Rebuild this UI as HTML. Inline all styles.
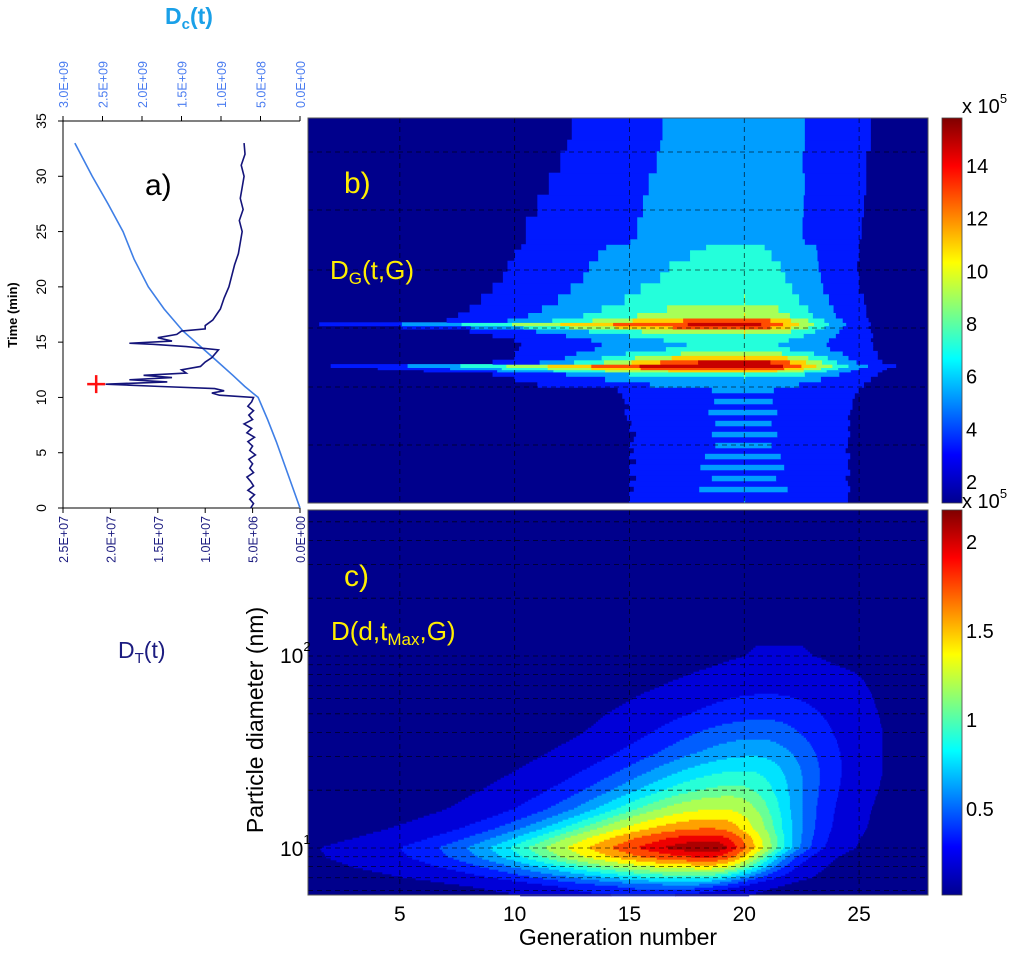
<!DOCTYPE html>
<html><head><meta charset="utf-8">
<style>
html,body{margin:0;padding:0;background:#fff;}
svg{display:block;font-family:"Liberation Sans",sans-serif;}
</style></head>
<body>
<svg id="fig" width="1024" height="955" viewBox="0 0 1024 955" xmlns="http://www.w3.org/2000/svg">
<defs>
<linearGradient id="jetb" x1="0" y1="1" x2="0" y2="0">
<stop offset="0" stop-color="#00008f"/><stop offset="0.125" stop-color="#0000ff"/><stop offset="0.375" stop-color="#00ffff"/><stop offset="0.625" stop-color="#ffff00"/><stop offset="0.875" stop-color="#ff0000"/><stop offset="1" stop-color="#800000"/>
</linearGradient>
</defs>
<g id="panelA"></g>
<g id="panelB"></g>
<g id="panelC"></g>
<g id="cbars"></g>
<g id="labels"></g>
</svg>
<script>
// ---------- Panel a data ----------
const dcTimes = [0,2,4,6,8,10,11,12,13.6,16,18,20,22.5,25,27.5,30,33];
const dcValues = [0,0.1e9,0.2e9,0.3e9,0.41e9,0.53e9,0.7e9,0.85e9,1.1e9,1.48e9,1.72e9,1.92e9,2.1e9,2.24e9,2.43e9,2.63e9,2.85e9];
const dtTimes = [0,0.4,0.8,1.2,1.6,2,2.4,2.8,3.2,3.6,4,4.4,4.8,5.2,5.6,6,6.4,6.8,7.2,7.6,8,8.4,8.8,9.2,9.6,10,10.2,10.4,10.6,10.8,11,11.2,11.4,11.6,11.8,12,12.2,12.5,12.8,13.2,13.6,14,14.3,14.6,14.8,14.9,15.1,15.4,15.7,16,16.2,16.5,17,17.5,18,19,20,21,22,23,24,25,26,27,28,29,30,31,32,33];
const dtValues = [5.2e6,4.9e6,5.3e6,4.8e6,5.5e6,4.9e6,5.2e6,5.6e6,4.9e6,5.3e6,5.0e6,5.4e6,4.7e6,5.3e6,5.0e6,5.5e6,4.8e6,5.6e6,5.1e6,5.9e6,5.0e6,5.4e6,4.9e6,5.5e6,5.1e6,4.9e6,8.5e6,9.3e6,8.0e6,9.0e6,1.5e7,2.05e7,1.4e7,1.8e7,1.35e7,1.65e7,1.2e7,1.25e7,1.05e7,1.0e7,9.3e6,8.9e6,8.6e6,1.2e7,1.55e7,1.8e7,1.35e7,1.5e7,1.3e7,1.25e7,1.0e7,1.0e7,9.2e6,8.8e6,8.4e6,8.0e6,7.5e6,7.2e6,6.9e6,6.5e6,6.3e6,6.1e6,6.4e6,6.0e6,6.3e6,6.1e6,5.9e6,6.2e6,5.8e6,5.9e6];
const markerTime = [11.2];
const markerValue = [2.15e7];
const timeTicks = [0,5,10,15,20,25,30,35];
const dtTicks = [2.5e7,2.0e7,1.5e7,1.0e7,5.0e6,0];
const dtTickLabels = ["2.5E+07","2.0E+07","1.5E+07","1.0E+07","5.0E+06","0.0E+00"];
const dcTicks = [3.0e9,2.5e9,2.0e9,1.5e9,1.0e9,5.0e8,0];
const dcTickLabels = ["3.0E+09","2.5E+09","2.0E+09","1.5E+09","1.0E+09","5.0E+08","0.0E+00"];

// ---------- Panel b data (time rows; peak x1e5, G extents at level 2e5) ----------
const bTimes = [0,0.5,1,1.5,2,2.5,3,3.5,4,4.5,5,5.5,6,6.5,7,7.5,8,8.5,9,9.5,10,10.5,11,11.5,11.9,12.1,12.3,12.6,13,13.4,13.8,14.2,14.6,15,15.4,15.8,16.1,16.4,16.8,17.3,18,19,20,21,22,23,23.5,24,26,28,30,32,33];
const bPeak = [4.0,3.6,4.6,3.7,4.3,3.6,4.5,3.7,4.4,3.6,4.2,3.7,4.3,3.6,4.2,3.7,4.3,3.8,4.2,3.8,4.2,4.8,6,8,11,14,16,15,12,9,7,6.5,7,8,10,13,14.5,13,10,9,8,7.5,7,6.8,6.4,6.2,5.2,5,5,5,4.9,4.9,4.9];
const bLeftEdge = [15,15,15.2,15,15.3,15,15,15.3,15,15.2,15,15.2,15.3,15,15.1,14.9,14.8,15,14.8,14.7,14.5,11,10,9,6,4,2,9,10,10,10.2,10.3,10,9,8,5,1.5,7,7.5,8,8.5,9,9.5,9.7,10,10.3,10.5,10.5,11,11.5,12,12.3,12.5];
const bRightEdge = [24.5,24.5,24.6,24.5,24.4,24.6,24.5,24.5,24.6,24.4,24.5,24.5,24.6,24.5,24.6,24.5,24.6,24.7,24.7,24.8,25,25.2,25.5,25.8,26,26.2,26.6,26,25.8,25.8,25.6,25.6,25.5,25.6,25.5,25.4,25.5,25.4,25.3,25.3,25.2,25,25,24.9,25,25,25,25.1,25.2,25.3,25.3,25.5,25.5];
const bCenter = [20];
const bLevels = [2,4,6,8,10,12,14];

// ---------- Panel c data (log10 diameter rows; peak x1e5, center G, extents at level 0.05) ----------
const cLogD = [0.6,0.75,0.8,0.85,0.9,0.95,1.0,1.05,1.1,1.2,1.3,1.4,1.5,1.6,1.7,1.8,1.9,2.0,2.1,2.2];
const cPeak = [0.12,0.2,0.45,0.9,1.4,1.9,2.17,2.0,1.7,1.3,1.0,0.8,0.6,0.45,0.3,0.2,0.12,0.06,0.04,0.03];
const cCenter = [15.5,15.5,17.5,18,18.5,18.5,18.5,18.5,18.5,19,19.5,20,20.5,20.5,21,21,21,21.5,21.5,21.5];
const cLeftEdge = [10.5,10.5,8,5,3,1.8,1.5,3,4.5,7,8.5,10,11.5,13,14,15.5,17.5,20,21,21];
const cRightEdge = [20,20,21.5,23,23.5,24,24.8,25,25.3,25.5,25.8,26,26,26,25.8,25.5,25,23,22,22];
const cLevels = [0.05,0.2,0.35,0.5,0.65,0.8,0.95,1.1,1.3,1.5,1.7,1.9,2.05];
const genTicks = [5,10,15,20,25];

const NS = "http://www.w3.org/2000/svg";
function mk(tag, attrs, parent){ const e=document.createElementNS(NS,tag); for(const k in attrs) e.setAttribute(k,attrs[k]); parent.appendChild(e); return e; }
function jet(v){ v=Math.max(0,Math.min(1,v));
  const r=Math.max(0,Math.min(1,Math.min(4*v-1.5,-4*v+4.5)));
  const g=Math.max(0,Math.min(1,Math.min(4*v-0.5,-4*v+3.5)));
  const b=Math.max(0,Math.min(1,Math.min(4*v+0.5,-4*v+2.5)));
  return `rgb(${Math.round(r*255)},${Math.round(g*255)},${Math.round(b*255)})`; }

// ---------- Panel a ----------
const A = document.getElementById('panelA');
const aL=63, aR=300, aT=121, aB=508;
const ty = t => aB - t*(aB-aT)/35;
const xDT = v => aR - v*(aR-aL)/2.5e7;
const xDC = v => aR - v*(aR-aL)/3e9;
let e;
e=mk('rect',{x:aL,y:aT,width:aR-aL,height:aB-aT,fill:'#fff'},A);
 
e=mk('line',{x1:aL,y1:aT,x2:aL,y2:aB,stroke:'#000','stroke-width':1},A);
 
e=mk('line',{x1:aL,y1:aB,x2:aR,y2:aB,stroke:'#000','stroke-width':1},A);
 
e=mk('line',{x1:aL,y1:aT,x2:aR,y2:aT,stroke:'#000','stroke-width':1},A);
 
timeTicks.forEach(t=>{
  e=mk('line',{x1:aL-5,y1:ty(t),x2:aL,y2:ty(t),stroke:'#000'},A);
   
  e=mk('text',{x:0,y:0,transform:`translate(46,${ty(t)}) rotate(-90)`,'text-anchor':'middle','font-size':14,fill:'#000'},A);
  e.textContent=t;  
});
dtTicks.forEach((v,i)=>{
  e=mk('line',{x1:xDT(v),y1:aB,x2:xDT(v),y2:aB+5,stroke:'#000'},A);
   
  e=mk('text',{x:0,y:0,transform:`translate(${xDT(v)+5},516) rotate(-90)`,'text-anchor':'end','font-size':12.5,fill:'#1c1c80'},A);
  e.textContent=dtTickLabels[i];  
});
dcTicks.forEach((v,i)=>{
  e=mk('line',{x1:xDC(v),y1:aT-5,x2:xDC(v),y2:aT,stroke:'#000'},A);
   
  e=mk('text',{x:0,y:0,transform:`translate(${xDC(v)+5},108) rotate(-90)`,'text-anchor':'start','font-size':12.5,fill:'#4a7cf0'},A);
  e.textContent=dcTickLabels[i];  
});
e=mk('polyline',{points:dcTimes.map((t,i)=>`${xDC(dcValues[i])},${ty(t)}`).join(' '),fill:'none',stroke:'#3f7fe6','stroke-width':1.6},A);
 
e=mk('polyline',{points:dtTimes.map((t,i)=>`${xDT(dtValues[i])},${ty(t)}`).join(' '),fill:'none',stroke:'#14147a','stroke-width':1.6},A);
 
markerTime.forEach((t,i)=>{
  const mx=xDT(markerValue[i]), my=ty(t);
  e=mk('path',{d:`M${mx-9},${my}H${mx+9}M${mx},${my-9}V${my+9}`,stroke:'#ff1010','stroke-width':2.5},A);
   
});

// ---------- band renderer ----------
function drawRow(parent, xmap, y0, y1, f, levels, colorOf){
  let start=1, cur=-1;
  const step=0.05;
  const bandAt = G => { const v=f(G); let k=0; while(k<levels.length && v>=levels[k]) k++; return k; };
  cur=bandAt(1);
  for(let G=1+step; G<=28.0001+step; G+=step){
    const bnd = G>28.0001 ? -99 : bandAt(G);
    if(bnd!==cur){
      if(cur>0){
        const x0=xmap(start), x1=xmap(Math.min(G,28));
        const r=mk('rect',{x:x0-0.3,y:Math.min(y0,y1)-0.3,width:x1-x0+0.6,height:Math.abs(y1-y0)+0.6,fill:colorOf(cur),stroke:'none'},parent);
        
        
      }
      start=G; cur=bnd;
    }
  }
}
const pL=308, pR=928;
const gx = G => pL + (G-1)*(pR-pL)/27;

// ---------- Panel b ----------
const B=document.getElementById('panelB');
const bT=118, bB=503;
const tyb = t => bB - t*(bB-bT)/35;
e=mk('rect',{x:pL,y:bT,width:pR-pL,height:bB-bT,fill:'#00008c'},B);
 
const bColor = k => jet(0.15 + (bLevels[k-1]-2)*0.065);
bTimes.forEach((t,i)=>{
  const t1 = i<bTimes.length-1 ? bTimes[i+1] : 35;
  const P=bPeak[i], c=bCenter[0];
  if(P<=bLevels[0]) return;
  const s=Math.sqrt(Math.log(P/bLevels[0]));
  const wl=(c-bLeftEdge[i])/s, wr=(bRightEdge[i]-c)/s;
  const f = G => { const w=G<c?wl:wr; return P*Math.exp(-Math.pow((G-c)/w,2)); };
  drawRow(B,gx,tyb(t),tyb(t1),f,bLevels,bColor);
});
// grid b
genTicks.forEach(G=>{ e=mk('line',{x1:gx(G),y1:bT,x2:gx(G),y2:bB,stroke:'#000','stroke-width':0.8,'stroke-dasharray':'5,4','stroke-opacity':0.75},B);
    });
[152,210,270,328,387,445].forEach(y=>{ e=mk('line',{x1:pL,y1:y,x2:pR,y2:y,stroke:'#000','stroke-width':0.8,'stroke-dasharray':'5,4','stroke-opacity':0.75},B);
    });
e=mk('rect',{x:pL,y:bT,width:pR-pL,height:bB-bT,fill:'none',stroke:'#555','stroke-width':1},B);
 

// ---------- Panel c ----------
const C=document.getElementById('panelC');
const cT=510, cB=895;
const yLog = ld => 848 - (ld-1)*192;
e=mk('rect',{x:pL,y:cT,width:pR-pL,height:cB-cT,fill:'#00008c'},C);
 
const cColor = k => jet((cLevels[k-1]+0.15)/2.3);
function interp(arr, ld){
  if(ld<=cLogD[0]) return arr[0];
  for(let i=0;i<cLogD.length-1;i++){ if(ld<=cLogD[i+1]){ const u=(ld-cLogD[i])/(cLogD[i+1]-cLogD[i]); return arr[i]+(arr[i+1]-arr[i])*u; } }
  return arr[arr.length-1];
}
for(let y=cT; y<cB; y+=2){
  const ld = 1 + (848-(y+1))/192;
  const P=interp(cPeak,ld), c=interp(cCenter,ld), gl=interp(cLeftEdge,ld), gr=interp(cRightEdge,ld);
  if(P<=cLevels[0]) continue;
  const s=Math.sqrt(Math.log(P/cLevels[0]));
  const wl=(c-gl)/s, wr=(gr-c)/s;
  const f = G => { const w=G<c?wl:wr; return P*Math.exp(-Math.pow((G-c)/w,2)); };
  drawRow(C,gx,y,y+2,f,cLevels,cColor);
}
genTicks.forEach(G=>{ e=mk('line',{x1:gx(G),y1:cT,x2:gx(G),y2:cB,stroke:'#000','stroke-width':0.8,'stroke-dasharray':'5,4','stroke-opacity':0.75},C);
    });
for(let dec=0; dec<=2; dec++){ for(let m=1;m<=9;m++){
  const y=yLog(dec+Math.log10(m)); if(y<cT||y>cB) continue;
  e=mk('line',{x1:pL,y1:y,x2:pR,y2:y,stroke:'#000','stroke-width':0.8,'stroke-dasharray':'5,4','stroke-opacity':0.75},C);
    } }
e=mk('rect',{x:pL,y:cT,width:pR-pL,height:cB-cT,fill:'none',stroke:'#555','stroke-width':1},C);
 
genTicks.forEach(G=>{ e=mk('text',{x:gx(G),y:921,'text-anchor':'middle','font-size':21,fill:'#000'},C);
  e.textContent=G;   });

// ---------- colorbars ----------
const CB=document.getElementById('cbars');
const cbX=942, cbW=20;
e=mk('rect',{x:cbX,y:bT,width:cbW,height:bB-bT,fill:'url(#jetb)',stroke:'#444','stroke-width':0.8},CB);
 
e=mk('rect',{x:cbX,y:cT,width:cbW,height:cB-cT,fill:'url(#jetb)',stroke:'#444','stroke-width':0.8},CB);
 
const cbbTicks=[2,4,6,8,10,12,14];
const cbbY = v => 481 - (v-2)*26.33;
cbbTicks.forEach(v=>{ e=mk('text',{x:966,y:cbbY(v)+8,'font-size':20,fill:'#000'},CB); e.textContent=v;
    });
const cbcTicks=[0.5,1,1.5,2];
const cbcY = v => 897 - v*178;
cbcTicks.forEach(v=>{ e=mk('text',{x:966,y:cbcY(v)+8,'font-size':20,fill:'#000'},CB); e.textContent=v;
    });

// ---------- labels ----------
const Lg=document.getElementById('labels');
function txt(x,y,s,size,fill,name,extra){ const t=mk('text',Object.assign({x:x,y:y,'font-size':size,fill:fill},extra||{}),Lg); t.innerHTML=s;
    return t; }
txt(165,24,'D<tspan font-size="15" dy="5">c</tspan><tspan dy="-5">(t)</tspan>',23,'#1aa0e8','dc-title',{'font-weight':'bold'});
txt(118,658,'D<tspan font-size="15" dy="5">T</tspan><tspan dy="-5">(t)</tspan>',23,'#1c1c80','dt-title');
txt(145,195,'a)',30,'#000','panel-a-label');
txt(0,0,'Time (min)',13,'#000','time-axis-title',{transform:'translate(17,315) rotate(-90)','text-anchor':'middle','font-weight':'bold'});
txt(344,193,'b)',30,'#ffee00','panel-b-label');
txt(330,279,'D<tspan font-size="17" dy="5">G</tspan><tspan dy="-5">(t,G)</tspan>',26,'#ffee00','panel-b-title');
txt(344,586,'c)',30,'#ffee00','panel-c-label');
txt(331,640,'D(d,t<tspan font-size="17" dy="5">Max</tspan><tspan dy="-5">,G)</tspan>',26,'#ffee00','panel-c-title');
txt(0,0,'Particle diameter (nm)',23,'#000','y-axis-title',{transform:'translate(263,720) rotate(-90)','text-anchor':'middle'});
txt(280,663,'10<tspan font-size="13" dy="-12">2</tspan>',21,'#000','y-tick-label-100');
txt(280,856,'10<tspan font-size="13" dy="-12">1</tspan>',21,'#000','y-tick-label-10');
txt(618,945,'Generation number',23,'#000','x-axis-title',{'text-anchor':'middle'});
txt(962,113,'x 10<tspan font-size="13" dy="-10">5</tspan>',20,'#000','colorbar-b-scale');
txt(962,508,'x 10<tspan font-size="13" dy="-10">5</tspan>',20,'#000','colorbar-c-scale');
</script>
</body></html>
